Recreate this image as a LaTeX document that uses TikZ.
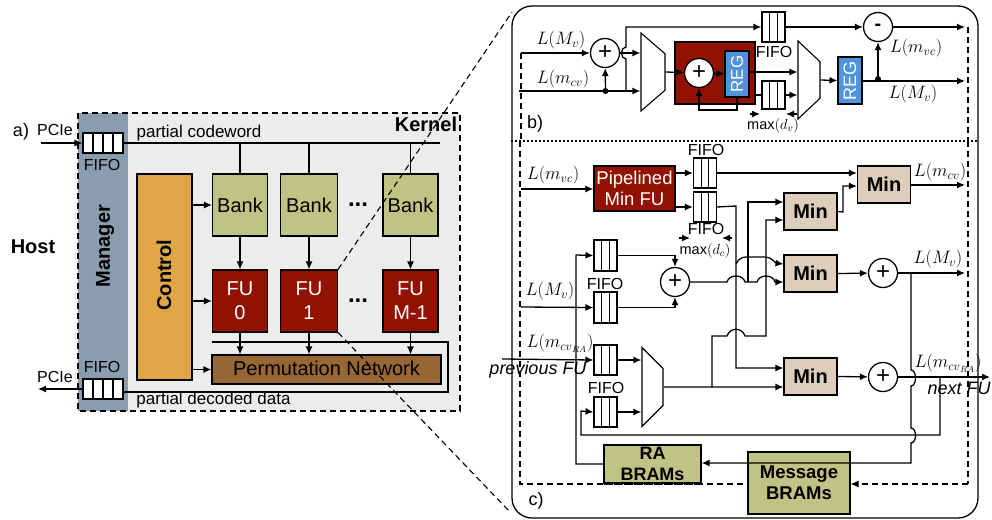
\documentclass[tikz,border=0pt]{standalone}
\usepackage{fix-cm}
\usepackage{amsmath}
\usepackage{fontspec}
\setmainfont{Liberation Sans}
\usetikzlibrary{shapes.geometric,arrows.meta}
\newcommand{\px}[1]{\fontsize{#1}{#1}\selectfont}
\definecolor{kernelgray}{HTML}{ECECEC}
\definecolor{managerblue}{HTML}{8A9DB0}
\definecolor{controlor}{HTML}{E0A545}
\definecolor{bankgreen}{HTML}{BFC485}
\definecolor{furosso}{HTML}{931100}
\definecolor{permbrown}{HTML}{976635}
\definecolor{regblue}{HTML}{5094DB}
\definecolor{minbeige}{HTML}{DDCDBB}
\begin{document}
\begin{tikzpicture}[x=1pt,y=-1pt,>={Latex[length=8pt,width=7pt]},
        wire/.style={line width=1.3pt},
        bus/.style={line width=2.8pt},
        cut/.style={line width=1.1pt, dash pattern=on 6pt off 4pt},
        box/.style={draw=black, line width=1.1pt, inner sep=0pt, align=center},
        bank/.style={box, fill=bankgreen, minimum width=55, minimum height=62, font=\px{20}},
        fu/.style={box, fill=furosso, text=white, minimum width=55, minimum height=62, font=\fontsize{20}{24}\selectfont},
        minbox/.style={box, fill=minbeige, minimum width=53, minimum height=37, font=\px{20}\bfseries},
        reg/.style={box, fill=regblue, text=white, font=\px{18}},
        sum/.style={circle, draw=black, line width=1.3pt, fill=white, minimum size=29, inner sep=0pt, font=\px{24}},
        mux/.style={trapezium, draw=black, line width=1.1pt, shape border rotate=270, trapezium stretches=true,
                    trapezium left angle=59, trapezium right angle=59, inner sep=0pt},
        fifothree/.style={draw=black, line width=1.1pt, fill=white, minimum width=23, minimum height=30, inner sep=0pt,
                    path picture={
                        \draw[line width=1.1pt] ([xshift=7.6pt]path picture bounding box.north west) -- ([xshift=7.6pt]path picture bounding box.south west);
                        \draw[line width=1.1pt] ([xshift=15.2pt]path picture bounding box.north west) -- ([xshift=15.2pt]path picture bounding box.south west);
                    }},
        fifofour/.style={draw=black, line width=1.1pt, fill=white, minimum width=40, minimum height=20, inner sep=0pt,
                    path picture={
                        \draw[line width=1.1pt] ([xshift=10pt]path picture bounding box.north west) -- ([xshift=10pt]path picture bounding box.south west);
                        \draw[line width=1.1pt] ([xshift=20pt]path picture bounding box.north west) -- ([xshift=20pt]path picture bounding box.south west);
                        \draw[line width=1.1pt] ([xshift=30pt]path picture bounding box.north west) -- ([xshift=30pt]path picture bounding box.south west);
                    }},
        lab/.style={inner sep=0pt, font=\px{16}},
        mlab/.style={inner sep=0pt, font=\px{18}}
    ]
    \useasboundingbox (0,0) rectangle (992,519);

    % a) kernel and manager
    \fill[kernelgray] (128,113) rectangle (460,411);
    \fill[managerblue] (78,113) rectangle (128,411);
    \draw[cut] (78,113) rectangle (460,411);
    \node[lab, rotate=90, font=\px{20}\bfseries] (manager) at (105,246) {Manager};
    \node[lab, font=\px{20}\bfseries] (host) at (33,247) {Host};
    \node[lab, font=\px{20}\bfseries] (kernel) at (426,124) {Kernel};
    \node[lab, font=\px{18}] (parta) at (21,132) {a)};

    \node[fifofour] (fifoin) at (103,143) {};
    \node[fifofour] (fifoout) at (103,389) {};
    \node[lab] (fifointxt) at (102,165) {FIFO};
    \node[lab] (fifoouttxt) at (102,367) {FIFO};
    \node[lab] (pciein) at (55,130) {PCIe};
    \node[lab] (pcieout) at (55,377) {PCIe};
    \node[lab, font=\px{17}] (codeword) at (199,133) {partial codeword};
    \node[lab, font=\px{17}] (decoded) at (213.5,400) {partial decoded data};

    \node[box, fill=controlor, minimum width=55, minimum height=206] (control) at (164.5,277) {};
    \node[rotate=90, inner sep=0pt, font=\px{20}\bfseries] (controltxt) at (164,275) {Control};
    \node[bank] (bank0) at (240,205) {Bank};
    \node[bank, minimum width=57] (bank1) at (309,205) {Bank};
    \node[bank] (bankm) at (410.5,205) {Bank};
    \node[fu] (fu0) at (240,301) {FU\\0};
    \node[fu, minimum width=57] (fu1) at (309,301) {FU\\1};
    \node[fu] (fum) at (410.5,301) {FU\\M-1};
    \node[box, fill=permbrown, minimum width=229, minimum height=29, font=\px{20}] (perm) at (326.5,369.5) {\raisebox{3pt}{Permutation Network}};
    \node[lab, font=\px{24}\bfseries] (dotsa) at (358,205) {...};
    \node[lab, font=\px{24}\bfseries] (dotsb) at (358,301) {...};

    \coordinate (pcieinend) at (41,143);
    \coordinate (pcieoutend) at (38,389);
    \coordinate (topbusend) at (440,143);
    \coordinate (botbusstart) at (123,392);
    \coordinate (botbuscorner) at (448,392);
    \coordinate (botbusend) at (212,342);
    \draw[wire,->] (pcieinend) -- (fifoin.west);
    \draw[wire,->] (fifoout.west) -- (pcieoutend);
    \draw[bus] (fifoin.east) -- (topbusend);
    \draw[bus] (botbusstart) -- (botbuscorner) |- (botbusend);
    \draw[wire] (bank0.north |- topbusend) -- (bank0.north);
    \draw[wire] (bank1.north |- topbusend) -- (bank1.north);
    \draw[wire] (bankm.north |- topbusend) -- (bankm.north);
    \draw[wire,->] (bank0) -- (fu0);
    \draw[wire,->] (bank1) -- (fu1);
    \draw[wire,->] (bankm) -- (fum);
    \draw[wire,->] (fu0.south) -- (fu0.south |- perm.north);
    \draw[wire,->] (fu1.south) -- (fu1.south |- perm.north);
    \draw[wire,->] (fum.south) -- (fum.south |- perm.north);
    \draw[wire,->] (control.east |- bank0) -- (bank0.west);
    \draw[wire,->] (control.east |- fu0) -- (fu0.west);
    \draw[wire,->] (control.east |- perm) -- (perm.west);

    % zoom lines
    \coordinate (zoomtop) at (512,12);
    \coordinate (zoombot) at (510,512);
    \draw[cut] (fu1.north east) -- (zoomtop);
    \draw[cut] (fu1.south east) -- (zoombot);

    % frame of b) and c)
    \draw[line width=1.3pt, rounded corners=20pt] (512,6) rectangle (978,518);
    \draw[line width=1.1pt, dash pattern=on 2pt off 2pt] (511,141) -- (978,141);
    \draw[cut] (521,53) -- (521,141);
    \draw[cut] (968,27) -- (968,141);
    \draw[cut] (520,141) -- (520,484) -- (748,484);
    \coordinate (cutend) at (968,484);
    \draw[cut] (968,141) -- (cutend);

    % b)
    \node[sum] (sumb) at (605,53) {+};
    \node[mux, minimum width=78, minimum height=24] (muxb) at (653,72) {\phantom{x}};
    \node[box, fill=furosso, minimum width=80, minimum height=62] (fub) at (715,73) {};
    \node[sum] (sumfb) at (699,73) {+};
    \node[reg, minimum width=24, minimum height=46, font=\px{17}] (regb) at (737,74) {\rotatebox{90}{REG}};
    \node[mux, minimum width=78, minimum height=22] (muxc) at (809,80) {\phantom{x}};
    \node[reg, minimum width=24, minimum height=47] (regc) at (850,80.5) {\rotatebox{90}{REG}};
    \node[sum, font=\px{20}\bfseries] (diff) at (878,27) {-};
    \node[fifothree] (fifobt) at (773.5,27) {};
    \node[fifothree, minimum height=28] (fifobb) at (773.5,95) {};
    \node[circle, fill=black, inner sep=0pt, minimum size=6] (dotcv) at (605.5,91) {};
    \node[circle, fill=black, inner sep=0pt, minimum size=6] (dotmv) at (878,79) {};
    \node[lab] (fifobtxt) at (774,52) {FIFO};
    \node[mlab] (lmvb) at (561,40) {$L(M_v)$};
    \node[mlab] (lmcvb) at (563,79) {$L(m_{cv})$};
    \node[mlab] (lmvcb) at (916,48) {$L(m_{vc})$};
    \node[mlab] (lmvbout) at (913,94) {$L(M_v)$};
    \node[inner sep=0pt, font=\px{14.5}] (maxdv) at (773,126) {$\max(d_v)$};
    \node[lab, font=\px{18}] (partb) at (535,124) {b)};

    \coordinate (inmv) at (521,53);
    \coordinate (incv) at (519,91);
    \coordinate (hopb) at (626,91);
    \coordinate (outdiff) at (965,27);
    \coordinate (outreg) at (965,81);
    \coordinate (dvl) at (750,114);
    \coordinate (dvla) at (760,114);
    \coordinate (dvr) at (797,114);
    \coordinate (dvra) at (786,114);
    \draw[wire,->] (inmv) -- (sumb);
    \draw[wire,->] (incv) -- (muxb.west |- incv);
    \draw[wire,->] (dotcv) -- (sumb);
    \draw[wire,->] (sumb) -- (muxb.west |- sumb);
    \draw[wire,->] (hopb) -- (626,59) .. controls (620,59) and (620,47) .. (626,47) -- (626,27) -- (fifobt.west);
    \draw[wire,->] (muxb.east) -- (sumfb);
    \draw[wire,->] (sumfb) -- (regb);
    \draw[wire,->] (regb.south) -- (737,110) -- (699,110) -- (sumfb.south);
    \draw[wire,->] (regb.east |- 0,72) -- (muxc.west |- 0,72);
    \draw[wire] (fub.east |- fifobb) -- (fifobb.west);
    \draw[wire,->] (fifobb.east) -- (muxc.west |- fifobb);
    \draw[wire,->] (fifobt.east) -- (diff);
    \draw[wire,->] (diff) -- (outdiff);
    \draw[wire,->] (muxc.east) -- (regc.west);
    \draw[wire,->] (regc.east |- outreg) -- (outreg);
    \draw[wire,->] (dotmv) -- (diff);
    \draw[wire,->] (dvl) -- (dvla);
    \draw[wire,->] (dvr) -- (dvra);

    % c)
    \node[box, fill=furosso, text=white, minimum width=81, minimum height=45, font=\fontsize{18.5}{21}\selectfont] (pipe) at (634.5,188.5) {Pipelined\\Min FU};
    \node[fifothree] (fifoa) at (705,173) {};
    \node[fifothree] (fifob) at (705,207) {};
    \node[fifothree, minimum height=31] (fifoc) at (605.5,255.5) {};
    \node[fifothree, minimum height=31] (fifod) at (605.5,307.5) {};
    \node[fifothree] (fifoe) at (605.5,360) {};
    \node[fifothree] (fifof) at (605.5,412) {};
    \node[minbox] (minc) at (884,184.5) {Min};
    \node[minbox] (mina) at (810.5,211.5) {Min};
    \node[minbox] (minb) at (810.5,273.5) {Min};
    \node[minbox] (mind) at (810.5,376.5) {Min};
    \node[sum] (sumc) at (675,282) {+};
    \node[sum] (sumd) at (883,273) {+};
    \node[sum] (sume) at (883,377) {+};
    \node[mux, minimum width=79, minimum height=21] (muxd) at (652.5,387) {\phantom{x}};
    \node[box, fill=bankgreen, minimum width=97, minimum height=38, font=\fontsize{18}{21.5}\bfseries\selectfont] (ra) at (652.5,464) {RA\\BRAMs};
    \node[box, fill=bankgreen, minimum width=102, minimum height=62, font=\fontsize{18.5}{21}\bfseries\selectfont] (msg) at (799,483) {Message\\BRAMs};
    \draw[cut] (604,484) -- (701,484);

    \node[lab] (fifoatxt) at (706,150) {FIFO};
    \node[lab] (fifobtxt2) at (706,229) {FIFO};
    \node[lab] (fifodtxt) at (605,284) {FIFO};
    \node[lab] (fifoftxt) at (606,388) {FIFO};
    \node[mlab] (lmvcc) at (553,175) {$L(m_{vc})$};
    \node[mlab] (lmvc) at (550,291) {$L(M_v)$};
    \node[mlab] (lmcvc) at (940,172) {$L(m_{cv})$};
    \node[mlab] (lmvd) at (938,259) {$L(M_v)$};
    \node[mlab] (lra) at (560,343) {$L(m_{{cv}_{RA}})$};
    \node[mlab] (lrb) at (948,363) {$L(m_{{cv}_{RA}})$};
    \node[inner sep=0pt, font=\px{14.5}] (maxdc) at (705,251) {$\max(d_c)$};
    \node[lab, font=\itshape\px{18}] (prevfu) at (538,370) {previous FU};
    \node[lab, font=\itshape\px{18}] (nextfu) at (959,388) {next FU};
    \node[lab, font=\px{18}] (partc) at (536,501) {c)};

    \coordinate (invc) at (521,189);
    \coordinate (inmvc) at (521,307);
    \coordinate (inprev) at (502,359);
    \coordinate (outcv) at (965,185);
    \coordinate (outmv) at (965,273);
    \coordinate (outnext) at (990,377);
    \coordinate (dcl) at (679,238);
    \coordinate (dcla) at (690,238);
    \coordinate (dcr) at (732,238);
    \coordinate (dcra) at (722,238);
    \draw[wire,->] (invc) -- (pipe.west |- invc);
    \draw[wire,->] (pipe.east |- fifoa) -- (fifoa.west);
    \draw[wire,->] (pipe.east |- fifob) -- (fifob.west);
    \draw[wire,->] (dcl) -- (dcla);
    \draw[wire,->] (dcr) -- (dcra);
    \draw[wire,->] (fifoa.east) -- (minc.west |- fifoa);
    \draw[wire,->] (mina.east) -- (843,212) -- (843,186) -- (minc.west |- 0,186);
    \draw[wire,->] (minc.east |- outcv) -- (outcv);
    \draw[wire,->] (748,282) -- (748,202) -- (mina.west |- 0,202);
    \draw[wire,->] (712,387) -- (712,336) -- (727,336) .. controls (730,327) and (742,327) .. (745,336) -- (766,336) -- (766,220) -- (mina.west |- 0,220);
    \draw[wire,->] (fifob.east) -- (736,206) -- (736,368) -- (mind.west |- 0,368);
    \draw[wire,->] (736,264) .. controls (740,256) and (745,257) .. (750,257) -- (765,257) .. controls (772,257) and (775,263) .. (minb.west |- 0,264);
    \draw[wire,->] (sumc.east) -- (727,282) .. controls (729,274) and (743,274) .. (745,282) -- (757,282) .. controls (759,274) and (773,274) .. (775,282) -- (minb.west |- 0,282);
    \draw[wire,->] (minb.east) -- (sumd);
    \draw[wire,->] (sumd) -- (outmv);
    \draw[wire,->] (ra.west) -- (576,464) -- (576,255) -- (fifoc.west);
    \draw[wire,->] (inmvc) -- (fifod.west);
    \draw[wire,->] (fifoc.east) -- (675,255.5) -- (sumc.north);
    \draw[wire,->] (fifod.east) -- (675,307.5) -- (sumc.south);
    \draw[wire,->] (inprev) -- (fifoe.west);
    \draw[wire,->] (fifoe.east) -- (muxd.west |- fifoe);
    \draw[wire,->] (fifof.east) -- (muxd.west |- fifof);
    \draw[wire,->] (muxd.east) -- (mind.west |- muxd);
    \draw[wire,->] (mind.east) -- (sume);
    \draw[wire,->] (sume) -- (outnext);
    \draw[wire,->] (940,377) -- (940,435) -- (581,435) -- (581,411) -- (fifof.west);
    \draw[wire,->] (911,273) -- (911,370) .. controls (917,370) and (917,386) .. (911,386) -- (911,428) .. controls (917,428) and (917,443) .. (911,443) -- (911,463) -- (ra.east |- 0,463);
    \draw[cut,->] (cutend) -- (msg.east |- cutend);
\end{tikzpicture}
\end{document}
